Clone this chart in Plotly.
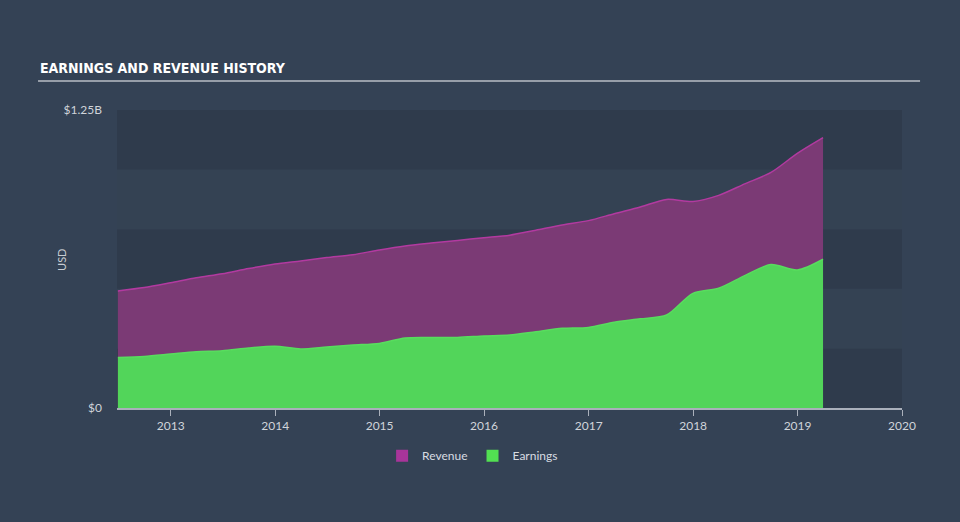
import plotly.graph_objects as go

dates = ["2012-06-30", "2012-09-30", "2012-12-31", "2013-03-31", "2013-06-30", "2013-09-30",
         "2013-12-31", "2014-03-31", "2014-06-30", "2014-09-30", "2014-12-31", "2015-03-31",
         "2015-06-30", "2015-09-30", "2015-12-31", "2016-03-31", "2016-06-30", "2016-09-30",
         "2016-12-31", "2017-03-31", "2017-06-30", "2017-09-30", "2017-12-31", "2018-03-31",
         "2018-06-30", "2018-09-30", "2018-12-31", "2019-03-31"]
revenue_b = [0.491, 0.505, 0.525, 0.546, 0.563, 0.585, 0.604, 0.617, 0.631, 0.643, 0.663, 0.680,
             0.692, 0.703, 0.714, 0.725, 0.746, 0.768, 0.786, 0.815, 0.843, 0.875, 0.866, 0.892,
             0.940, 0.988, 1.068, 1.134]
earnings_b = [0.212, 0.216, 0.226, 0.236, 0.240, 0.252, 0.259, 0.248, 0.256, 0.264, 0.271, 0.294,
              0.296, 0.296, 0.302, 0.306, 0.320, 0.334, 0.338, 0.360, 0.374, 0.390, 0.481, 0.502,
              0.555, 0.602, 0.579, 0.624]
y_ticks = [0, 1.25e9]
y_tick_labels = ["$0", "$1.25B"]
x_ticks = ["2013-01-01", "2014-01-01", "2015-01-01", "2016-01-01", "2017-01-01",
           "2018-01-01", "2019-01-01", "2020-01-01"]
x_tick_labels = ["2013", "2014", "2015", "2016", "2017", "2018", "2019", "2020"]

revenue = [v * 1e9 for v in revenue_b]
earnings = [v * 1e9 for v in earnings_b]

fig = go.Figure()
fig.add_trace(go.Scatter(x=dates, y=revenue, mode="lines", line=dict(color="#b23aa0", width=1.5, shape="spline", smoothing=0.8),
                         fill="tozeroy", fillcolor="#7b3a75", showlegend=False, hoverinfo="skip"))
fig.add_trace(go.Scatter(x=dates, y=earnings, mode="lines", line=dict(color="#58dd5e", width=1.5, shape="spline", smoothing=0.8),
                         fill="tozeroy", fillcolor="#52d55a", showlegend=False, hoverinfo="skip"))
# legend entries
fig.add_trace(go.Scatter(x=[None], y=[None], mode="markers", name="Revenue",
                         marker=dict(symbol="square", size=16, color="#a8359a")))
fig.add_trace(go.Scatter(x=[None], y=[None], mode="markers", name="Earnings",
                         marker=dict(symbol="square", size=16, color="#52e052")))

shapes = []
band_edges = [0, 0.25, 0.5, 0.75, 1.0, 1.25]
for i in range(5):
    col = "#2f3b4c" if i % 2 == 0 else "#344253"
    shapes.append(dict(type="rect", xref="paper", yref="y", x0=0, x1=1,
                       y0=band_edges[i] * 1e9, y1=band_edges[i + 1] * 1e9,
                       fillcolor=col, line=dict(width=0), layer="below"))
shapes.append(dict(type="line", xref="paper", yref="paper", x0=-0.1006, x1=1.023, y0=1.097, y1=1.097,
                   line=dict(color="#b8bec6", width=1.5)))

fig.update_layout(
    width=960, height=522,
    margin=dict(l=117, r=58, t=110, b=114),
    paper_bgcolor="#344255",
    plot_bgcolor="#344253",
    font=dict(family="Lato, sans-serif", size=12, color="#d0d4da"),
    shapes=shapes,
    showlegend=True,
    legend=dict(orientation="h", x=0.453, xanchor="center", y=-0.16, yanchor="middle",
                font=dict(size=12, color="#d8dce2"), bgcolor="rgba(0,0,0,0)", itemsizing="constant"),
    annotations=[
        dict(text="<b>EARNINGS AND REVENUE HISTORY</b>", xref="paper", yref="paper", x=-0.1006, y=1.141,
             xanchor="left", yanchor="middle", showarrow=False,
             font=dict(family="DejaVu Sans Condensed, Liberation Sans Narrow, sans-serif", size=14, color="#ffffff")),
        dict(text="USD", xref="paper", yref="paper", x=-0.070, y=0.497, textangle=-90,
             xanchor="center", yanchor="middle", showarrow=False, font=dict(size=11, color="#c8ccd2")),
    ],
    xaxis=dict(type="date", range=["2012-06-27", "2020-01-01"], tickvals=x_ticks, ticktext=x_tick_labels,
               showgrid=False, zeroline=False, showline=True, linecolor="#aab0bb", linewidth=1.5,
               ticks="outside", ticklen=6, tickcolor="#aab0bb", tickfont=dict(size=12, color="#d0d4da")),
    yaxis=dict(range=[0, 1.25e9], tickvals=y_ticks, ticktext=y_tick_labels, showgrid=False, zeroline=False,
               showline=False, ticks="", ticklabelstandoff=14, tickfont=dict(size=12, color="#d0d4da")),
)

fig.write_html("out.html")
